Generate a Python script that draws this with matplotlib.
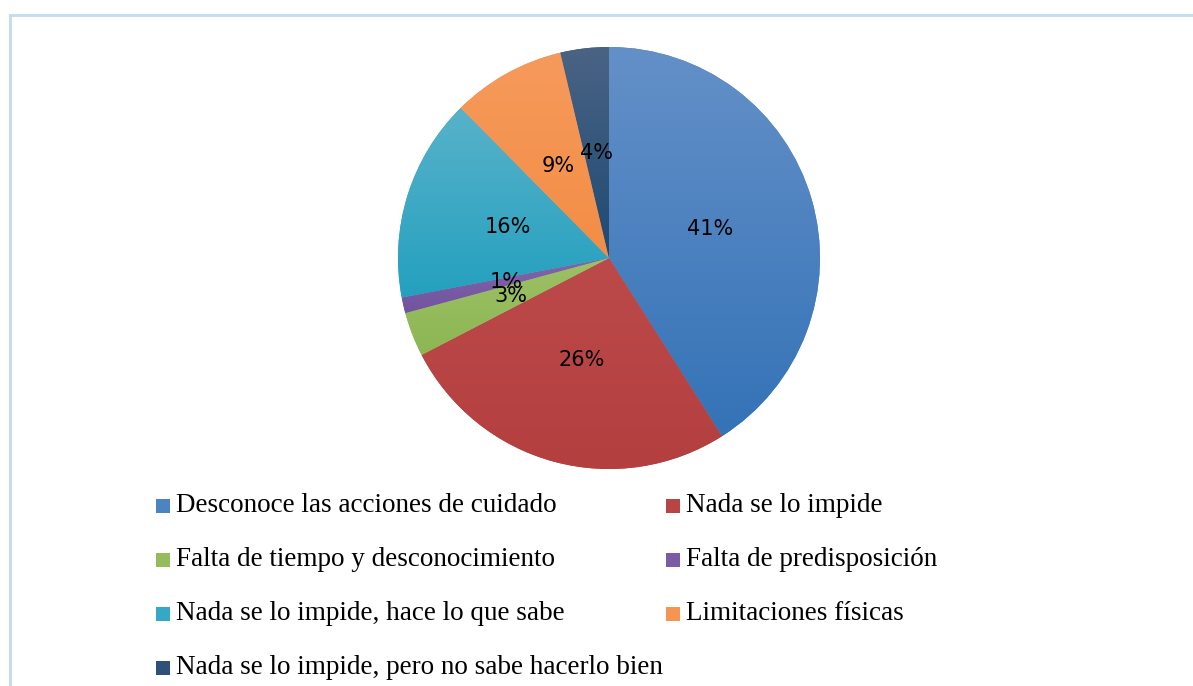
import matplotlib.pyplot as plt
import numpy as np
from matplotlib.colors import to_rgb
from matplotlib.patches import Rectangle

# data (percent of answers)
labels = ["Desconoce las acciones de cuidado", "Nada se lo impide",
          "Falta de tiempo y desconocimiento", "Falta de predisposición",
          "Nada se lo impide, hace lo que sabe", "Limitaciones físicas",
          "Nada se lo impide, pero no sabe hacerlo bien"]
values = [41.0, 26.4, 3.4, 1.2, 15.6, 8.7, 3.7]
colors = ["#4a84c4", "#b94444", "#95bc5c", "#7a5ba4", "#35a8c5", "#f59552", "#2f5078"]
# lighter / darker ends of the gradient fill
tops = ["#6490c8", "#bd4a4a", "#9cc166", "#8266a8", "#58b2ca", "#f69a5c", "#4a6384"]
bots = ["#3473b7", "#b33f3f", "#8db653", "#7153a0", "#24a0bf", "#f38d45", "#1e4a73"]

W, H = 1193, 686
fig = plt.figure(figsize=(W / 100, H / 100), dpi=100)

# light blue frame of the chart area
fig.patches.append(Rectangle((10 / W, -0.1), 1.2, 1 - 15 / H + 0.1, transform=fig.transFigure,
                             fill=False, edgecolor="#c9dbef", linewidth=2.2))

cx, cy, r = 609, 258, 211
ax = fig.add_axes([(cx - r) / W, 1 - (cy + r) / H, 2 * r / W, 2 * r / H])
wedges, texts, autotexts = ax.pie(values, colors=colors, startangle=90, counterclock=False,
                                  autopct="%.0f%%", pctdistance=0.5,
                                  wedgeprops=dict(linewidth=0),
                                  textprops=dict(fontsize=15, color="black"))
ax.axis("off")

# gradient fill inside each wedge
for w, t, b in zip(wedges, tops, bots):
    verts = w.get_path().vertices
    y0, y1 = verts[:, 1].min(), verts[:, 1].max()
    g = np.linspace(0, 1, 64)[:, None]
    img = (1 - g)[..., None] * np.array(to_rgb(t)) + g[..., None] * np.array(to_rgb(b))
    im = ax.imshow(img, extent=(-1, 1, y0, y1), origin="upper", aspect="auto",
                   interpolation="bilinear", zorder=w.get_zorder() + 0.1)
    im.set_clip_path(w)
for a in autotexts:
    a.set_zorder(5)
ax.set_xlim(-1, 1)
ax.set_ylim(-1, 1)

# legend, two columns, filled row by row
col_x = [163, 673]
row_y = [506, 560, 614, 668]
for i, (lab, c) in enumerate(zip(labels, colors)):
    x = col_x[i % 2]
    y = row_y[i // 2]
    fig.patches.append(Rectangle(((x - 7) / W, 1 - (y + 7) / H), 14 / W, 14 / H,
                                 transform=fig.transFigure, facecolor=c, edgecolor="none"))
    fig.text((x + 13) / W, 1 - y / H, lab, fontsize=19.5, family="Liberation Serif",
             va="center", ha="left")

fig.savefig("out.png", dpi=100, facecolor="white")
